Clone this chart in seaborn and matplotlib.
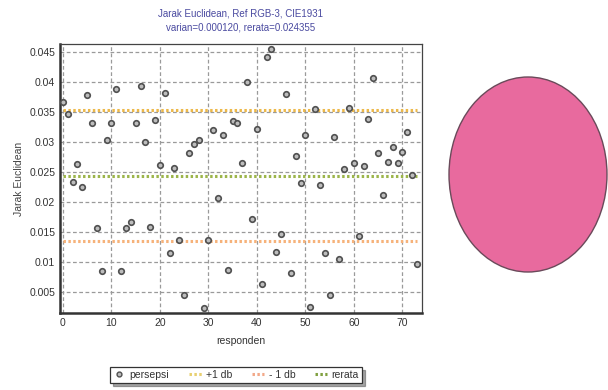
import numpy as np
import pandas as pd
import matplotlib.pyplot as plt
import seaborn as sns
from matplotlib.patches import Ellipse
from matplotlib.lines import Line2D
from matplotlib.ticker import MultipleLocator, FuncFormatter

# data
responden = list(range(74))
persepsi = [0.0366, 0.0347, 0.0233, 0.0263, 0.0225, 0.0378, 0.0332, 0.0157, 0.0085, 0.0303,
            0.0331, 0.0388, 0.0085, 0.0157, 0.0166, 0.0331, 0.0393, 0.0299, 0.0158, 0.0336,
            0.0261, 0.0382, 0.0114, 0.0257, 0.0136, 0.0044, 0.0282, 0.0296, 0.0303, 0.0023,
            0.0136, 0.0320, 0.0207, 0.0312, 0.0086, 0.0334, 0.0332, 0.0264, 0.0400, 0.0172,
            0.0321, 0.0063, 0.0441, 0.0455, 0.0117, 0.0147, 0.0380, 0.0081, 0.0276, 0.0232,
            0.0311, 0.0024, 0.0354, 0.0228, 0.0115, 0.0044, 0.0308, 0.0105, 0.0254, 0.0356,
            0.0265, 0.0143, 0.0260, 0.0338, 0.0407, 0.0281, 0.0212, 0.0266, 0.0291, 0.0264,
            0.0283, 0.0317, 0.0244, 0.0097]
varian = 0.000120
rerata = 0.024355
db = np.sqrt(varian)

x_ticks = [0, 10, 20, 30, 40, 50, 60, 70]
y_ticks = [0.005, 0.01, 0.015, 0.02, 0.025, 0.03, 0.035, 0.04, 0.045]

df = pd.DataFrame({'responden': responden, 'persepsi': persepsi})
lines = pd.DataFrame({
    'responden': responden * 3,
    'nilai': [rerata + db] * 74 + [rerata - db] * 74 + [rerata] * 74,
    'seri': ['+1 db'] * 74 + ['- 1 db'] * 74 + ['rerata'] * 74,
})
line_colors = {'+1 db': '#ecb84a', '- 1 db': '#f6b27a', 'rerata': '#9cb54a'}

sns.set_style('white')
plt.rcParams['font.family'] = ['Liberation Sans', 'DejaVu Sans']

fig = plt.figure(figsize=(6.08, 3.9), dpi=100)
ax = fig.add_axes([0.0987, 0.1974, 0.595, 0.690])

ax.grid(True, color='#9a9a9a', linestyle=(0, (3, 2)), linewidth=0.9)
ax.set_axisbelow(True)

sns.lineplot(data=lines, x='responden', y='nilai', hue='seri', palette=line_colors,
             linewidth=2.2, dashes=False, legend=False, ax=ax)
for ln in ax.get_lines():
    ln.set_linestyle((0, (0.8, 0.8)))
sns.scatterplot(data=df, x='responden', y='persepsi', marker='o', s=16,
                color='#bdbdbd', edgecolor='#505050', linewidth=1.2, legend=False,
                ax=ax, zorder=3)

ax.set_xlim(-0.6, 74)
ax.set_ylim(0.00145, 0.0463)
ax.set_xticks(x_ticks)
ax.set_yticks(y_ticks)
ax.xaxis.set_minor_locator(MultipleLocator(2))
ax.yaxis.set_minor_locator(MultipleLocator(0.001))
ax.yaxis.set_major_formatter(FuncFormatter(lambda v, p: ('%.3f' % v).rstrip('0')))
ax.tick_params(which='both', direction='in', colors='#333333', labelsize=7.5,
               labelcolor='#333333')
ax.tick_params(which='major', length=4)
ax.tick_params(which='minor', length=2)

for side in ['left', 'bottom']:
    ax.spines[side].set_linewidth(1.8)
    ax.spines[side].set_color('#333333')
for side in ['top', 'right']:
    ax.spines[side].set_linewidth(0.9)
    ax.spines[side].set_color('#444444')

ax.set_xlabel('responden', fontsize=7.5, color='#333333', labelpad=6)
ax.set_ylabel('Jarak Euclidean', fontsize=7.5, color='#444444', labelpad=4)
ax.set_title('Jarak Euclidean, Ref RGB-3, CIE1931\nvarian=%.6f, rerata=%.6f' % (varian, rerata),
             fontsize=7, color='#4a4aa0', pad=10, linespacing=1.4)

handles = [
    Line2D([], [], marker='o', linestyle='none', markersize=3.5, markerfacecolor='#bdbdbd',
           markeredgecolor='#505050', markeredgewidth=1),
    Line2D([], [], color='#e8d070', linestyle=(0, (0.8, 0.8)), linewidth=2.2),
    Line2D([], [], color='#f2a888', linestyle=(0, (0.8, 0.8)), linewidth=2.2),
    Line2D([], [], color='#80a040', linestyle=(0, (0.8, 0.8)), linewidth=2.2),
]
leg = fig.legend(handles, ['persepsi', '+1 db', '- 1 db', 'rerata'], ncol=4,
                 loc='center', bbox_to_anchor=(236 / 608, 1 - 375 / 390), fontsize=7.5,
                 frameon=True, fancybox=False, shadow=True, edgecolor='#333333',
                 handlelength=1.2, handletextpad=0.4, columnspacing=1.9,
                 borderpad=0.3, labelcolor='#333333')
leg.get_frame().set_linewidth(0.9)

fig.add_artist(Ellipse((528 / 608, 1 - 174.5 / 390), 158 / 608, 195 / 390,
                       transform=fig.transFigure, facecolor='#e86a9e',
                       edgecolor='#6a4a5a', linewidth=1.0))

fig.savefig('out.png', dpi=100, facecolor='white')
